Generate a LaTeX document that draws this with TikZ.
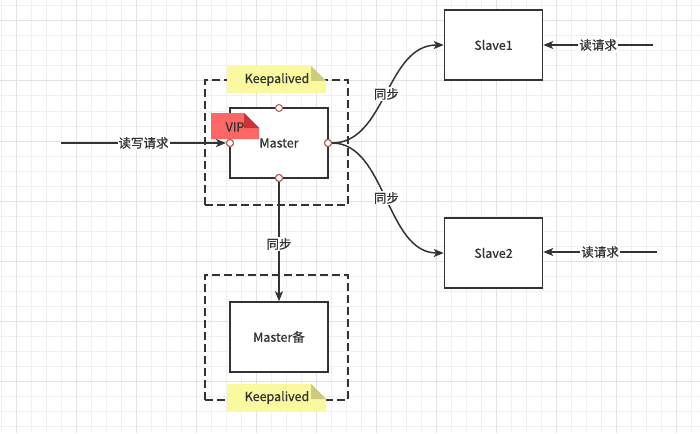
\documentclass[tikz,border=0pt]{standalone}
\usepackage{fontspec}
\setmainfont{Noto Sans CJK SC}[FakeBold=0.6]
\usetikzlibrary{arrows.meta}
\definecolor{ink}{HTML}{333333}
\definecolor{gminor}{HTML}{F0F0F0}
\definecolor{gmajor}{HTML}{E2E2E2}
\definecolor{notey}{HTML}{FAF9A0}
\definecolor{notefoldy}{HTML}{CDCB7C}
\definecolor{noter}{HTML}{FF6666}
\definecolor{notefoldr}{HTML}{CC3333}
\definecolor{portc}{HTML}{B85450}
\tikzset{
  txt/.style={font=\fontsize{12.5pt}{14pt}\selectfont},
  gridminor/.style={draw=gminor, line width=1pt},
  gridmajor/.style={draw=gmajor, line width=1pt},
  box/.style={draw=ink, line width=1.5pt, fill=white, minimum width=98pt, minimum height=70pt, inner sep=0pt, text=ink, txt},
  group/.style={draw=ink, line width=1.5pt, dash pattern=on 8pt off 4pt, minimum width=143pt, minimum height=125pt, inner sep=0pt},
  port/.style={circle, draw=portc, fill=white, line width=1pt, minimum size=7pt, inner sep=0pt},
  edge/.style={draw=ink, line width=1.5pt, -{Stealth[length=10pt, width=8pt, inset=2.5pt]}},
  elabel/.style={fill=white, text=ink, inner sep=1pt, txt},
  notetext/.style={text=ink, inner sep=0pt, txt},
}
\begin{document}
\begin{tikzpicture}[x=1pt,y=-1pt]
\useasboundingbox (0,0) rectangle (700,433);
\fill[white] (0,0) rectangle (700,433);
% grid
\foreach \i in {0,...,46} \draw[gridminor] ({1+15*\i},0) -- ({1+15*\i},433);
\foreach \j in {0,...,28} \draw[gridminor] (0,{6+15*\j}) -- (700,{6+15*\j});
\foreach \i in {0,...,11} \draw[gridmajor] ({16+60*\i},0) -- ({16+60*\i},433);
\foreach \j in {0,...,6} \draw[gridmajor] (0,{21+60*\j}) -- (700,{21+60*\j});

% groups
\node[group] (g1) at (276.5,142.5) {};
\node[group] (g2) at (276.5,337.5) {};

% Keepalived notes
\fill[notey] (227,66) -- (311,66) -- (326,81) -- (326,93) -- (227,93) -- cycle;
\fill[notefoldy] (311,66) -- (326,81) -- (311,81) -- cycle;
\node[notetext] (k1) at (277,79.5) {Keepalived};
\fill[notey] (227,384) -- (311,384) -- (326,399) -- (326,411) -- (227,411) -- cycle;
\fill[notefoldy] (311,384) -- (326,399) -- (311,399) -- cycle;
\node[notetext] (k2) at (277,397.5) {Keepalived};

% boxes
\node[box] (master) at (279,143) {Master};
\node[box] (backup) at (279,337) {Master备};
\node[box] (slave1) at (493.5,45) {Slave1};
\node[box] (slave2) at (493.5,253) {Slave2};

% VIP note
\fill[noter] (211,113) -- (244,113) -- (259,128) -- (259,139) -- (211,139) -- cycle;
\fill[notefoldr] (244,113) -- (259,128) -- (244,128) -- cycle;
\node[notetext] (vip) at (235,127) {VIP};

% ports
\node[port] (pt) at (279,108) {};
\node[port] (pb) at (279,178) {};
\node[port] (pl) at (230,143) {};
\node[port] (pr) at (328,143) {};

% free ends
\coordinate (c0) at (61,143);
\coordinate (c1) at (653,45);
\coordinate (c2) at (657,252);

% connectors
\draw[edge] (c0) -- node[elabel] {读写请求} (pl);
\draw[edge] (pb) -- node[elabel, pos=0.52] {同步} (backup.north);
\draw[edge] (pr) .. controls (386,143) and (386,45) .. node[elabel] {同步} (slave1.west);
\draw[edge] (pr) .. controls (386,143) and (386,253) .. node[elabel] {同步} (slave2.west);
\draw[edge] (c1) -- node[elabel, pos=0.5] {读请求} (slave1.east);
\draw[edge] (c2) -- node[elabel, pos=0.5] {读请求} (slave2.east |- c2);

% redraw ports on top
\node[port] at (pr) {};
\node[port] at (pl) {};
\node[port] at (pb) {};
\end{tikzpicture}
\end{document}
